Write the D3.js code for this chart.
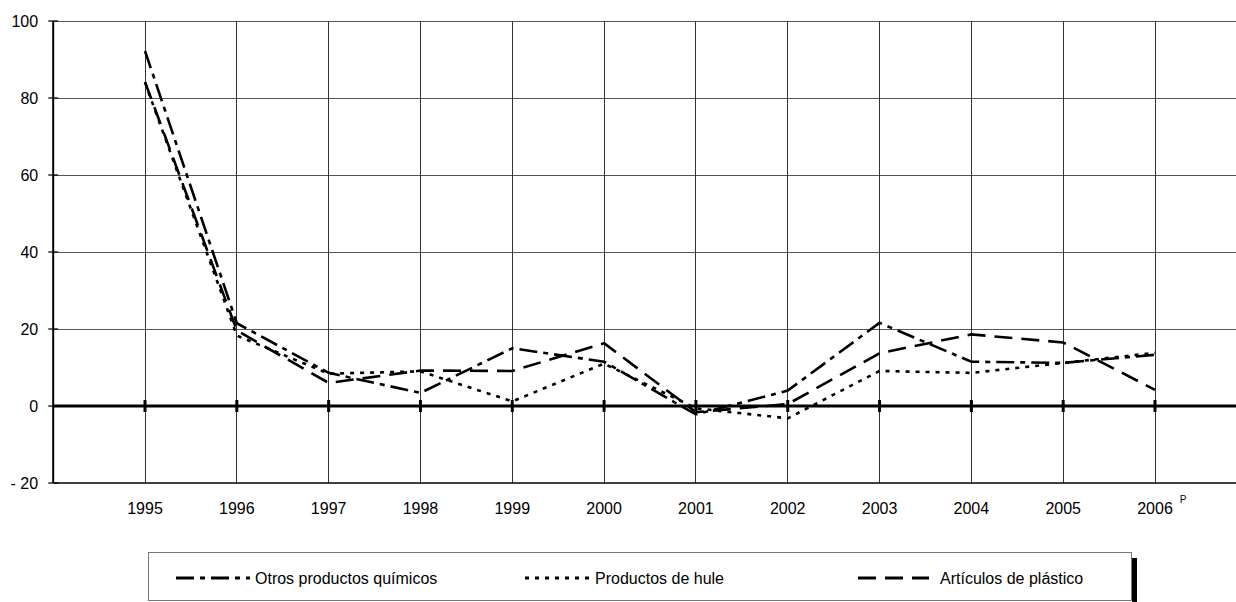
<!DOCTYPE html>
<html>
<head>
<meta charset="utf-8">
<script src="https://cdn.jsdelivr.net/npm/d3@7/dist/d3.min.js"></script>
<style>
  html, body { margin: 0; padding: 0; background: #fff; }
  svg { display: block; font-family: "Liberation Sans", Arial, sans-serif; }
</style>
</head>
<body>
<svg id="chart" width="1236" height="602"></svg>
<script>
const years = ["1995","1996","1997","1998","1999","2000","2001","2002","2003","2004","2005","2006"];
const yTicks = [-20, 0, 20, 40, 60, 80, 100];
const seriesNames = ["Otros productos químicos", "Productos de hule", "Artículos de plástico"];
const otros    = [92.2, 21.5, 8.6, 3.4, 15.0, 11.5, -2.2, 4.0, 21.6, 11.5, 11.2, 13.3];
const hule     = [84.0, 18.3, 8.4, 9.0, 1.2, 11.0, -0.6, -3.2, 9.1, 8.6, 11.2, 13.8];
const plastico = [84.2, 19.6, 6.0, 9.2, 9.1, 16.3, -1.6, 0.5, 13.7, 18.6, 16.5, 4.2];
const dashes = ["18,6,5,6", "4,6", "18,9"];

(function () {
const svg = d3.select("#chart");
const plotTop = 21, plotBottom = 483;
const fs = 16;

const x = d3.scalePoint().domain(years).range([145, 1155]);
const step = x.step();
const left = x(years[0]) - step;
const right = x(years[years.length - 1]) + step;
const y = d3.scaleLinear().domain([-20, 100]).range([plotBottom, plotTop]);

// horizontal grid
svg.append("g").selectAll("line").data(yTicks.filter(d => d !== 0 && d !== -20)).join("line")
  .attr("x1", left).attr("x2", right)
  .attr("y1", d => y(d)).attr("y2", d => y(d))
  .attr("stroke", "#555").attr("stroke-width", 1).attr("shape-rendering", "crispEdges");

// vertical grid
svg.append("g").selectAll("line").data(years).join("line")
  .attr("x1", d => x(d)).attr("x2", d => x(d))
  .attr("y1", plotTop).attr("y2", plotBottom)
  .attr("stroke", "#333").attr("stroke-width", 1).attr("shape-rendering", "crispEdges");

// bottom line
svg.append("line").attr("x1", left).attr("x2", right).attr("y1", plotBottom).attr("y2", plotBottom)
  .attr("stroke", "#000").attr("stroke-width", 1.5);

// left axis
svg.append("line").attr("x1", left).attr("x2", left).attr("y1", plotTop).attr("y2", plotBottom)
  .attr("stroke", "#000").attr("stroke-width", 2);

// y ticks & labels
const yg = svg.append("g");
yg.selectAll("line").data(yTicks).join("line")
  .attr("x1", left - 5).attr("x2", left + 5)
  .attr("y1", d => y(d)).attr("y2", d => y(d))
  .attr("stroke", "#000").attr("stroke-width", 1.2);
yg.selectAll("text").data(yTicks).join("text")
  .attr("x", left - 15).attr("y", d => y(d)).attr("dy", "0.35em")
  .attr("text-anchor", "end").attr("font-size", fs).attr("fill", "#000")
  .text(d => d < 0 ? "- " + Math.abs(d) : d);

// zero line
svg.append("line").attr("x1", left).attr("x2", right).attr("y1", y(0)).attr("y2", y(0))
  .attr("stroke", "#000").attr("stroke-width", 3);
svg.append("g").selectAll("line").data(years).join("line")
  .attr("x1", d => x(d)).attr("x2", d => x(d))
  .attr("y1", y(0) - 6).attr("y2", y(0) + 6)
  .attr("stroke", "#000").attr("stroke-width", 3);

// x labels
svg.append("g").selectAll("text").data(years).join("text")
  .attr("x", d => x(d)).attr("y", 514)
  .attr("text-anchor", "middle").attr("font-size", fs).attr("fill", "#000")
  .text(d => d);
svg.append("text").attr("x", x("2006") + 28).attr("y", 503)
  .attr("text-anchor", "middle").attr("font-size", 10).text("P");

// series lines
const line = d3.line().x((d, i) => x(years[i])).y(d => y(d));
const allSeries = [otros, hule, plastico];
svg.append("g").selectAll("path").data(allSeries).join("path")
  .attr("d", d => line(d))
  .attr("fill", "none").attr("stroke", "#000").attr("stroke-width", 2.6)
  .attr("stroke-dasharray", (d, i) => dashes[i]);

// legend
const lg = svg.append("g");
lg.append("rect").attr("x", 1132).attr("y", 558).attr("width", 5).attr("height", 44).attr("fill", "#000");
lg.append("rect").attr("x", 148.5).attr("y", 552.5).attr("width", 983).attr("height", 48)
  .attr("fill", "#fff").attr("stroke", "#777").attr("stroke-width", 1);
const legendItems = [
  {x1: 176, x2: 250, tx: 255},
  {x1: 525, x2: 594, tx: 595},
  {x1: 858, x2: 929, tx: 940}
];
legendItems.forEach((it, i) => {
  lg.append("line").attr("x1", it.x1).attr("x2", it.x2).attr("y1", 578).attr("y2", 578)
    .attr("stroke", "#000").attr("stroke-width", 3).attr("stroke-dasharray", dashes[i]);
  lg.append("text").attr("x", it.tx).attr("y", 584).attr("font-size", fs).attr("fill", "#000")
    .text(seriesNames[i]);
});
})();
</script>
</body>
</html>
